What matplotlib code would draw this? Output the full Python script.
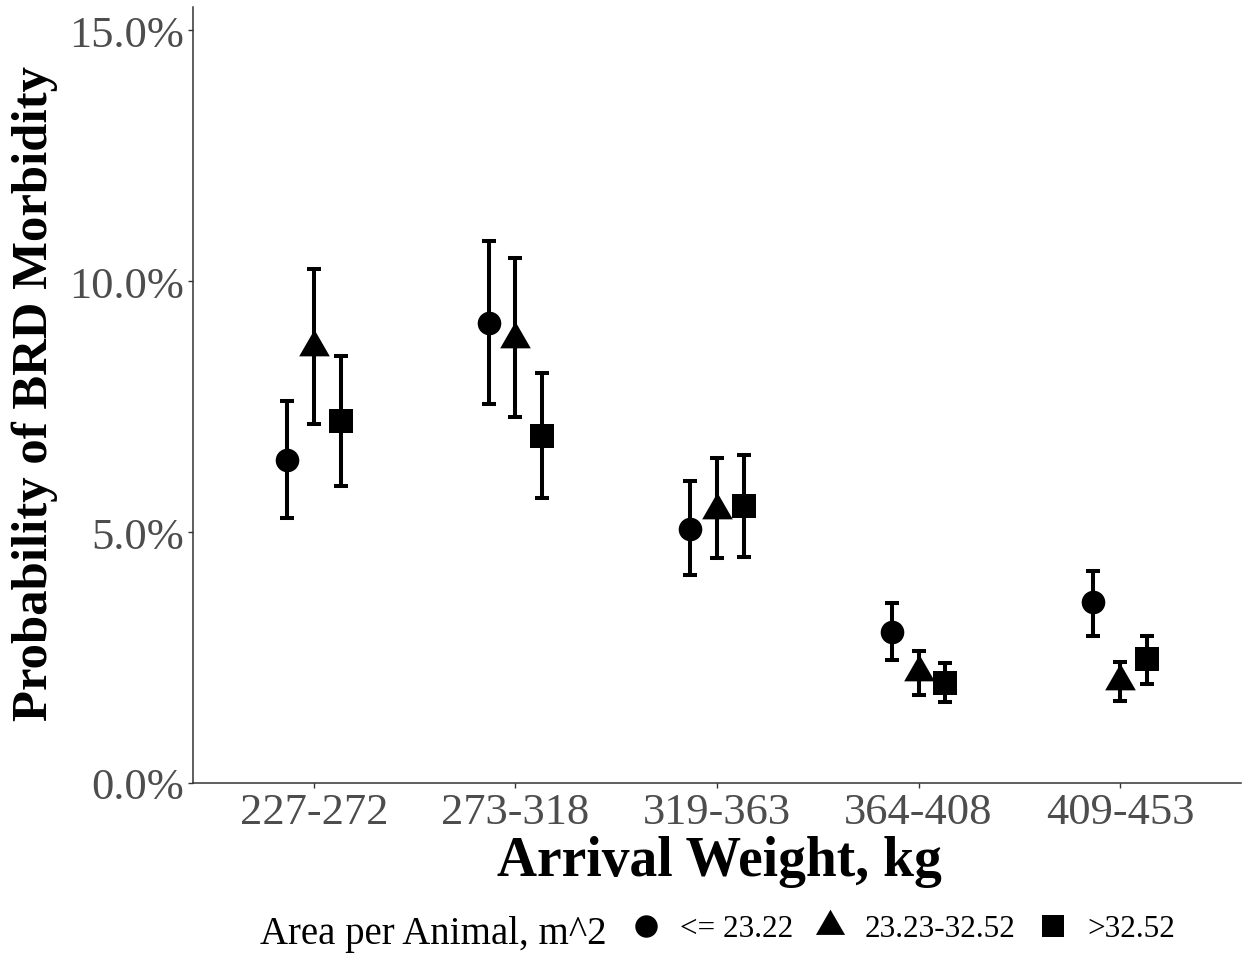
import numpy as np
import matplotlib.pyplot as plt
from matplotlib.ticker import PercentFormatter

plt.rcParams['font.family'] = ['Liberation Serif', 'DejaVu Serif']

weights = ['227-272', '273-318', '319-363', '364-408', '409-453']
areas = ['<= 23.22', '23.23-32.52', '>32.52']

# predicted probability with lower / upper confidence limits
small_est = [0.0644, 0.0917, 0.0507, 0.0301, 0.0361]
small_lo = [0.0528, 0.0756, 0.0414, 0.0246, 0.0293]
small_hi = [0.0761, 0.1080, 0.0601, 0.0359, 0.0422]

mid_est = [0.0869, 0.0885, 0.0544, 0.0221, 0.0203]
mid_lo = [0.0715, 0.0730, 0.0448, 0.0176, 0.0164]
mid_hi = [0.1024, 0.1045, 0.0647, 0.0262, 0.0242]

large_est = [0.0722, 0.0692, 0.0552, 0.0200, 0.0247]
large_lo = [0.0592, 0.0567, 0.0451, 0.0162, 0.0198]
large_hi = [0.0851, 0.0817, 0.0653, 0.0239, 0.0292]

# R-style triangle, centred on its centroid
tri = [(0, 1), (-0.866, -0.5), (0.866, -0.5), (0, 1)]
markers = ['o', tri, 's']
msizes = [17, 25.5, 17]

series = [(small_est, small_lo, small_hi),
          (mid_est, mid_lo, mid_hi),
          (large_est, large_lo, large_hi)]

fig = plt.figure(figsize=(12.43, 9.54), dpi=100)
ax = fig.add_axes([193 / 1243, (954 - 784) / 954, 1048 / 1243, 776 / 954])

x = np.arange(len(weights))
dodge = 0.4 / 3
handles = []
for k, (est, lo, hi) in enumerate(series):
    est = np.array(est)
    xs = x + (k - 1) * dodge
    yerr = [est - np.array(lo), np.array(hi) - est]
    ax.errorbar(xs, est, yerr=yerr, fmt='none', ecolor='black',
                elinewidth=2.9, capsize=4.7, capthick=2.9, zorder=2)
    h, = ax.plot(xs, est, linestyle='none', marker=markers[k],
                 markersize=msizes[k], color='black', markeredgewidth=0,
                 label=areas[k], zorder=3)
    handles.append(h)

ax.set_xlim(-0.6, len(weights) - 0.4)
ax.set_ylim(0, 0.1546)
ax.set_xticks(x)
ax.set_xticklabels(weights)
ax.set_yticks([0, 0.05, 0.10, 0.15])
ax.yaxis.set_major_formatter(PercentFormatter(xmax=1, decimals=1))

for side in ['top', 'right']:
    ax.spines[side].set_visible(False)
for side in ['left', 'bottom']:
    ax.spines[side].set_color('#333333')
    ax.spines[side].set_linewidth(1.1)
ax.tick_params(axis='both', length=3.3, width=1.0, color='#333333',
               labelcolor='#4D4D4D', labelsize=32, pad=3)

fig.text(35 / 1243, (954 - 394) / 954, 'Probability of BRD Morbidity',
         rotation=90, ha='center', va='center', fontsize=36.5,
         fontweight='bold', color='black')
fig.text(719 / 1243, (954 - 876) / 954, 'Arrival Weight, kg',
         ha='center', va='baseline', fontsize=40, fontweight='bold',
         color='black')

# legend: title on the left, keys in one row
fig.text(260 / 1243, (954 - 930) / 954, 'Area per Animal, m^2',
         ha='left', va='center_baseline', fontsize=28, color='black')
fig.legend(handles=handles, loc='center left',
           bbox_to_anchor=(630 / 1243, (954 - 930) / 954), ncol=3,
           frameon=False, fontsize=22.5, handlelength=1.0,
           handletextpad=0.59, columnspacing=0.7, borderpad=0,
           borderaxespad=0, markerscale=0.95)

fig.savefig('out.png', dpi=100)
